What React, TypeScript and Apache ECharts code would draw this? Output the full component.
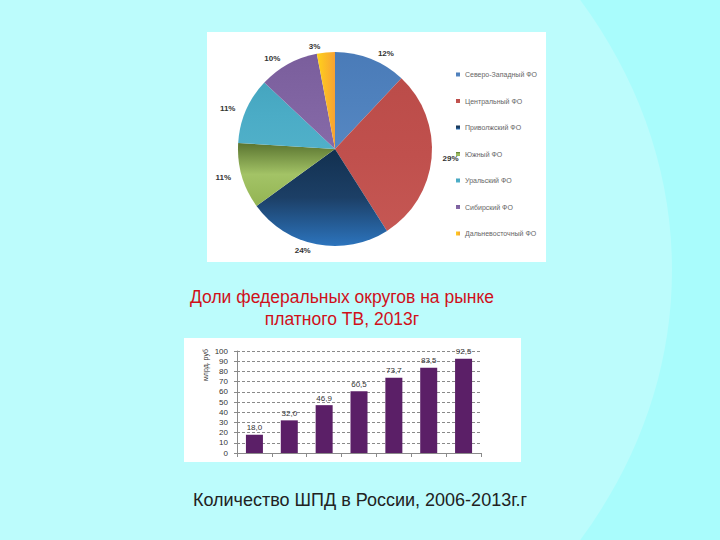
import React, { useEffect, useRef } from 'react'
import * as echarts from 'echarts'

const districts = [
  'Северо-Западный ФО',
  'Центральный ФО',
  'Приволжский ФО',
  'Южный ФО',
  'Уральский ФО',
  'Сибирский ФО',
  'Дальневосточный ФО',
]
const shares = [12, 29, 24, 11, 11, 10, 3]

const years = ['2007', '2008', '2009', '2010', '2011', '2012', '2013']
const broadband = [18.0, 32.0, 46.9, 60.5, 73.7, 83.5, 92.5]

const vGrad = (top: string, mid: string, bottom: string) => ({
  type: 'linear',
  x: 0,
  y: 0,
  x2: 0,
  y2: 1,
  colorStops: [
    { offset: 0, color: top },
    { offset: 0.5, color: mid },
    { offset: 1, color: bottom },
  ],
})

const sliceColors = [
  vGrad('#4a7bb8', '#4f81bd', '#5687c2'),
  vGrad('#bb4c49', '#c0504d', '#c55753'),
  vGrad('#12304f', '#1c3f66', '#2c74bd'),
  vGrad('#5a7430', '#a3c366', '#93b453'),
  vGrad('#45a5bf', '#4bacc6', '#50b0c9'),
  vGrad('#7a5e9c', '#8064a2', '#866aa8'),
  {
    type: 'linear',
    x: 0,
    y: 0,
    x2: 1,
    y2: 0,
    colorStops: [
      { offset: 0, color: '#ffd21a' },
      { offset: 1, color: '#f7a234' },
    ],
  },
]

const FONT = '"Liberation Sans", Arial, sans-serif'

const App: React.FC = () => {
  const chartRef = useRef<HTMLDivElement>(null)

  useEffect(() => {
    if (!chartRef.current) return
    const chart = echarts.init(chartRef.current, null, { renderer: 'svg' })

    const options = {
      animation: false,
      backgroundColor: '#a9fcfc',
      textStyle: { fontFamily: FONT },
      graphic: [
        {
          type: 'ellipse',
          z: -20,
          shape: { cx: 0, cy: 270, rx: 672, ry: 535 },
          style: { fill: '#bcfcfc' },
        },
        {
          type: 'rect',
          z: -10,
          shape: { x: 207, y: 32, width: 339, height: 230 },
          style: { fill: '#ffffff' },
        },
        {
          type: 'rect',
          z: -10,
          shape: { x: 184, y: 338, width: 337, height: 124 },
          style: { fill: '#ffffff' },
        },
        {
          type: 'text',
          x: 342,
          y: 297,
          style: {
            text: 'Доли федеральных округов на рынке',
            textAlign: 'center',
            textVerticalAlign: 'middle',
            fill: '#d0101a',
            font: `17.5px ${FONT}`,
          },
        },
        {
          type: 'text',
          x: 342,
          y: 319,
          style: {
            text: 'платного ТВ, 2013г',
            textAlign: 'center',
            textVerticalAlign: 'middle',
            fill: '#d0101a',
            font: `17.5px ${FONT}`,
          },
        },
        {
          type: 'text',
          x: 205,
          y: 365,
          rotation: Math.PI / 2,
          style: {
            text: 'млрд. руб',
            textAlign: 'center',
            textVerticalAlign: 'middle',
            fill: '#333333',
            font: `7px ${FONT}`,
          },
        },
        {
          type: 'text',
          x: 360,
          y: 500,
          style: {
            text: 'Количество ШПД в России, 2006-2013г.г',
            textAlign: 'center',
            textVerticalAlign: 'middle',
            fill: '#222222',
            font: `18px ${FONT}`,
          },
        },
      ],
      legend: {
        data: districts,
        orient: 'vertical',
        left: 456,
        top: 71,
        padding: 0,
        itemWidth: 4,
        itemHeight: 4,
        itemGap: 19.5,
        icon: 'rect',
        textStyle: { fontSize: 7, color: '#666666', fontFamily: FONT },
      },
      grid: { left: 237, right: 239, top: 351, bottom: 87 },
      xAxis: {
        type: 'category',
        data: years,
        axisLabel: { show: false },
        axisLine: { lineStyle: { color: '#8a8a8a' } },
        axisTick: { show: true, length: 4, lineStyle: { color: '#8a8a8a' } },
      },
      yAxis: {
        type: 'value',
        min: 0,
        max: 100,
        interval: 10,
        axisLine: { show: true, lineStyle: { color: '#8a8a8a' } },
        axisTick: { show: true, length: 3, lineStyle: { color: '#8a8a8a' } },
        axisLabel: { fontSize: 8, color: '#333333', margin: 9 },
        splitLine: {
          lineStyle: { color: '#8a8a8a', type: [3, 2], width: 1 },
        },
      },
      series: [
        {
          type: 'pie',
          center: [335, 149],
          radius: 97,
          startAngle: 90,
          clockwise: true,
          data: districts.map((name, i) => ({
            name,
            value: shares[i],
            itemStyle: { color: sliceColors[i] },
          })),
          label: {
            show: true,
            position: 'outside',
            formatter: '{c}%',
            fontSize: 8,
            fontWeight: 'bold',
            color: '#333333',
            fontFamily: FONT,
          },
          labelLine: { show: false, length: 6, length2: 0 },
        },
        {
          type: 'bar',
          data: broadband,
          barWidth: 17,
          itemStyle: { color: '#5b1f67' },
          label: {
            show: true,
            position: 'top',
            distance: 3,
            fontSize: 8,
            color: '#333333',
            formatter: (p: any) => p.value.toFixed(1).replace('.', ','),
          },
        },
      ],
    }

    chart.setOption(options)
    return () => {
      chart.dispose()
    }
  }, [])

  return (
    <div
      ref={chartRef}
      style={{ position: 'fixed', left: 0, top: 0, width: 720, height: 540 }}
    />
  )
}

export default App
